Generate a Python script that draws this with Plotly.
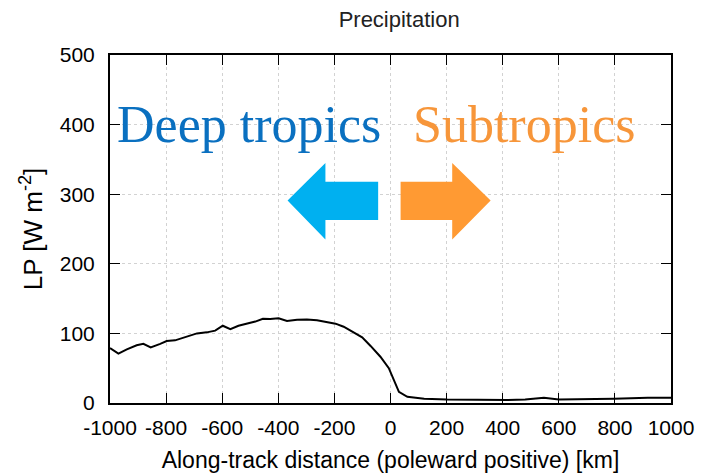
import plotly.graph_objects as go

distance_km = [-1000, -970, -940, -905, -881, -855, -821, -798, -768, -726, -690, -655,
               -625, -598, -571, -542, -512, -482, -455, -429, -399, -369, -333, -298,
               -262, -226, -196, -167, -131, -101, -71, -36, -6, 12, 30, 60, 83, 120,
               202, 321, 417, 480, 547, 600, 679, 797, 917, 1000]
lp_wm2 = [79, 71, 77, 83, 85, 80, 85, 89, 90, 95, 100, 101.5,
          104, 111, 106, 111, 113.5, 117, 121, 120.7, 121.6, 117.8, 119.7, 120,
          118.8, 116, 114, 109.6, 101.5, 94.4, 82, 66.5, 50, 33, 16, 9, 7.6, 6,
          5, 4.3, 4.3, 5, 7.6, 5, 5, 6, 7.6, 7.6]

x_ticks = [-1000, -800, -600, -400, -200, 0, 200, 400, 600, 800, 1000]
x_tick_text = [str(v) for v in x_ticks]
y_ticks = [0, 100, 200, 300, 400, 500]

fig = go.Figure()
fig.add_trace(go.Scatter(x=distance_km, y=lp_wm2, mode="lines",
                         line=dict(color="black", width=2), showlegend=False,
                         cliponaxis=False))

axis_common = dict(
    showline=True, linecolor="black", linewidth=2, mirror="ticks",
    ticks="inside", ticklen=10, tickwidth=1, tickcolor="black",
    showgrid=True, gridcolor="#d2d2d2", griddash="3px,3px", gridwidth=1,
    zeroline=False, automargin=False, tickangle=0,
    tickfont=dict(family="Liberation Sans, Arial", size=21, color="black"),
)

fig.update_xaxes(range=[-1000, 1000], tickvals=x_ticks, ticktext=x_tick_text,
                 ticklabelstandoff=5, ticklabeloverflow="allow",
                 title=dict(text="Along-track distance (poleward positive) [km]",
                            font=dict(family="Liberation Sans, Arial", size=23, color="black"),
                            standoff=14),
                 **axis_common)
fig.update_yaxes(range=[0, 500], tickvals=y_ticks, ticklabelstandoff=9,
                 title=dict(text="LP [W m<sup>-2</sup>]",
                            font=dict(family="Liberation Sans, Arial", size=26, color="black"),
                            standoff=10),
                 **axis_common)

# arrows
fig.add_shape(type="path", xref="x", yref="y",
              path="M -44,318 L -232,318 L -232,345 L -367,291 L -232,235 L -232,263 L -44,263 Z",
              fillcolor="#00b0f0", line=dict(width=0))
fig.add_shape(type="path", xref="x", yref="y",
              path="M 36,318 L 220,318 L 220,345 L 357,291 L 220,235 L 220,263 L 36,263 Z",
              fillcolor="#ff9a33", line=dict(width=0))

fig.add_annotation(x=-505, y=400, xref="x", yref="y", text="Deep tropics", showarrow=False,
                   font=dict(family="Liberation Serif, Times New Roman", size=52, color="#0a70c0"),
                   xanchor="center", yanchor="middle")
fig.add_annotation(x=475, y=400, xref="x", yref="y", text="Subtropics", showarrow=False,
                   font=dict(family="Liberation Serif, Times New Roman", size=52, color="#f7963a"),
                   xanchor="center", yanchor="middle")

fig.update_layout(
    width=704, height=475,
    margin=dict(l=110, r=33, t=55, b=72),
    paper_bgcolor="white", plot_bgcolor="white",
    title=dict(text="Precipitation", x=0.567, xanchor="center", y=0.96, yanchor="middle",
               font=dict(family="Liberation Sans, Arial", size=22, color="#222222")),
)

fig.write_html("out.html")
